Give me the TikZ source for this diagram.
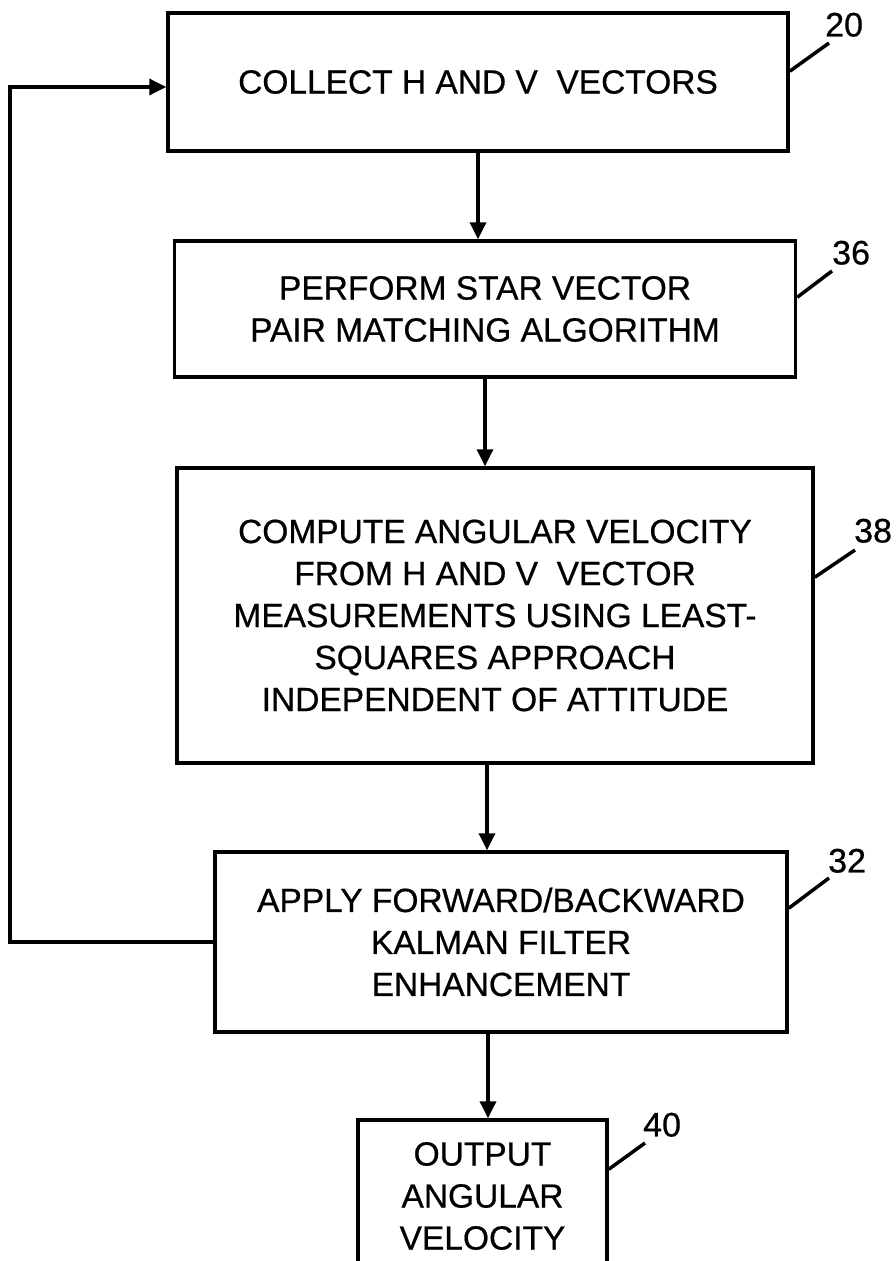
\documentclass[tikz,border=0pt]{standalone}
\usepackage{fontspec}
\setmainfont{Liberation Sans}[BoldFont=Liberation Sans, BoldFeatures={FakeBold=0.6}]
\usepackage{tikz}
\usetikzlibrary{arrows.meta,positioning,calc}
\tikzset{
  stepbox/.style={draw, line width=3.5pt, align=center, inner sep=0pt,
    font=\bfseries\fontsize{33.5}{42}\selectfont},
  refnum/.style={inner sep=0pt, anchor=south west, font=\bfseries\fontsize{34}{40}\selectfont},
  flow/.style={line width=3.5pt, -{Triangle[length=17pt,width=16pt]}},
  leader/.style={line width=3.5pt}
}

\begin{document}
\begin{tikzpicture}[x=1pt, y=-1pt]
    \useasboundingbox (0,0) rectangle (895,1261);
    \clip (0,0) rectangle (895,1261);

    % Define nodes
    \node (b20) [stepbox, minimum width=620pt, minimum height=138pt] at (478,82)
        {COLLECT H AND V~~VECTORS};
    \node (b36) [stepbox, minimum width=621pt, minimum height=136pt] at (485,309)
        {PERFORM STAR VECTOR\\PAIR MATCHING ALGORITHM};
    \node (b38) [stepbox, minimum width=636pt, minimum height=295pt] at (495,615.5)
        {COMPUTE ANGULAR VELOCITY\\FROM H AND V~~VECTOR\\MEASUREMENTS USING LEAST-\\SQUARES APPROACH\\INDEPENDENT OF ATTITUDE};
    \node (b32) [stepbox, minimum width=572pt, minimum height=180pt] at (501,942)
        {APPLY FORWARD/BACKWARD\\KALMAN FILTER\\ENHANCEMENT};
    \node (b40) [stepbox, minimum width=249pt, minimum height=152pt] at (482.5,1196)
        {OUTPUT\\ANGULAR\\VELOCITY};

    % Reference numbers
    \node (l20) [refnum] at (825,37) {20};
    \node (l36) [refnum] at (832,265) {36};
    \node (l38) [refnum] at (854,543) {38};
    \node (l32) [refnum] at (828,873) {32};
    \node (l40) [refnum] at (643,1137) {40};

    \coordinate (p20) at ([yshift=-60pt]b20.north east);
    \coordinate (p36) at ([yshift=-58pt]b36.north east);
    \coordinate (p38) at ([yshift=-111pt]b38.north east);
    \coordinate (p32) at ([yshift=-58pt]b32.north east);
    \coordinate (p40) at ([yshift=-51pt]b40.north east);

    % Draw edges
    \draw[flow] (b20.south) -- (b20.south |- b36.north);
    \draw[flow] (b36.south) -- (b36.south |- b38.north);
    \draw[flow] ([xshift=-8pt]b38.south) -- ([xshift=-8pt]b38.south |- b32.north);
    \draw[flow] ([xshift=-13pt]b32.south) -- ([xshift=-13pt]b32.south |- b40.north);

    % Feedback loop back to the top
    \coordinate (fb1) at (10,942);
    \coordinate (fb2) at (10,87);
    \draw[flow] (b32.west) -- (fb1) -- (fb2) -- (b20.west |- fb2);

    % Leader lines
    \draw[leader] (p20) -- ([shift={(4pt,-6pt)}]l20.south west);
    \draw[leader] (p36) -- ([shift={(0pt,-6pt)}]l36.south west);
    \draw[leader] (p38) -- ([shift={(1pt,-7pt)}]l38.south west);
    \draw[leader] (p32) -- ([shift={(1pt,-5pt)}]l32.south west);
    \draw[leader] (p40) -- ([shift={(2pt,-6pt)}]l40.south west);

\end{tikzpicture}
\end{document}
